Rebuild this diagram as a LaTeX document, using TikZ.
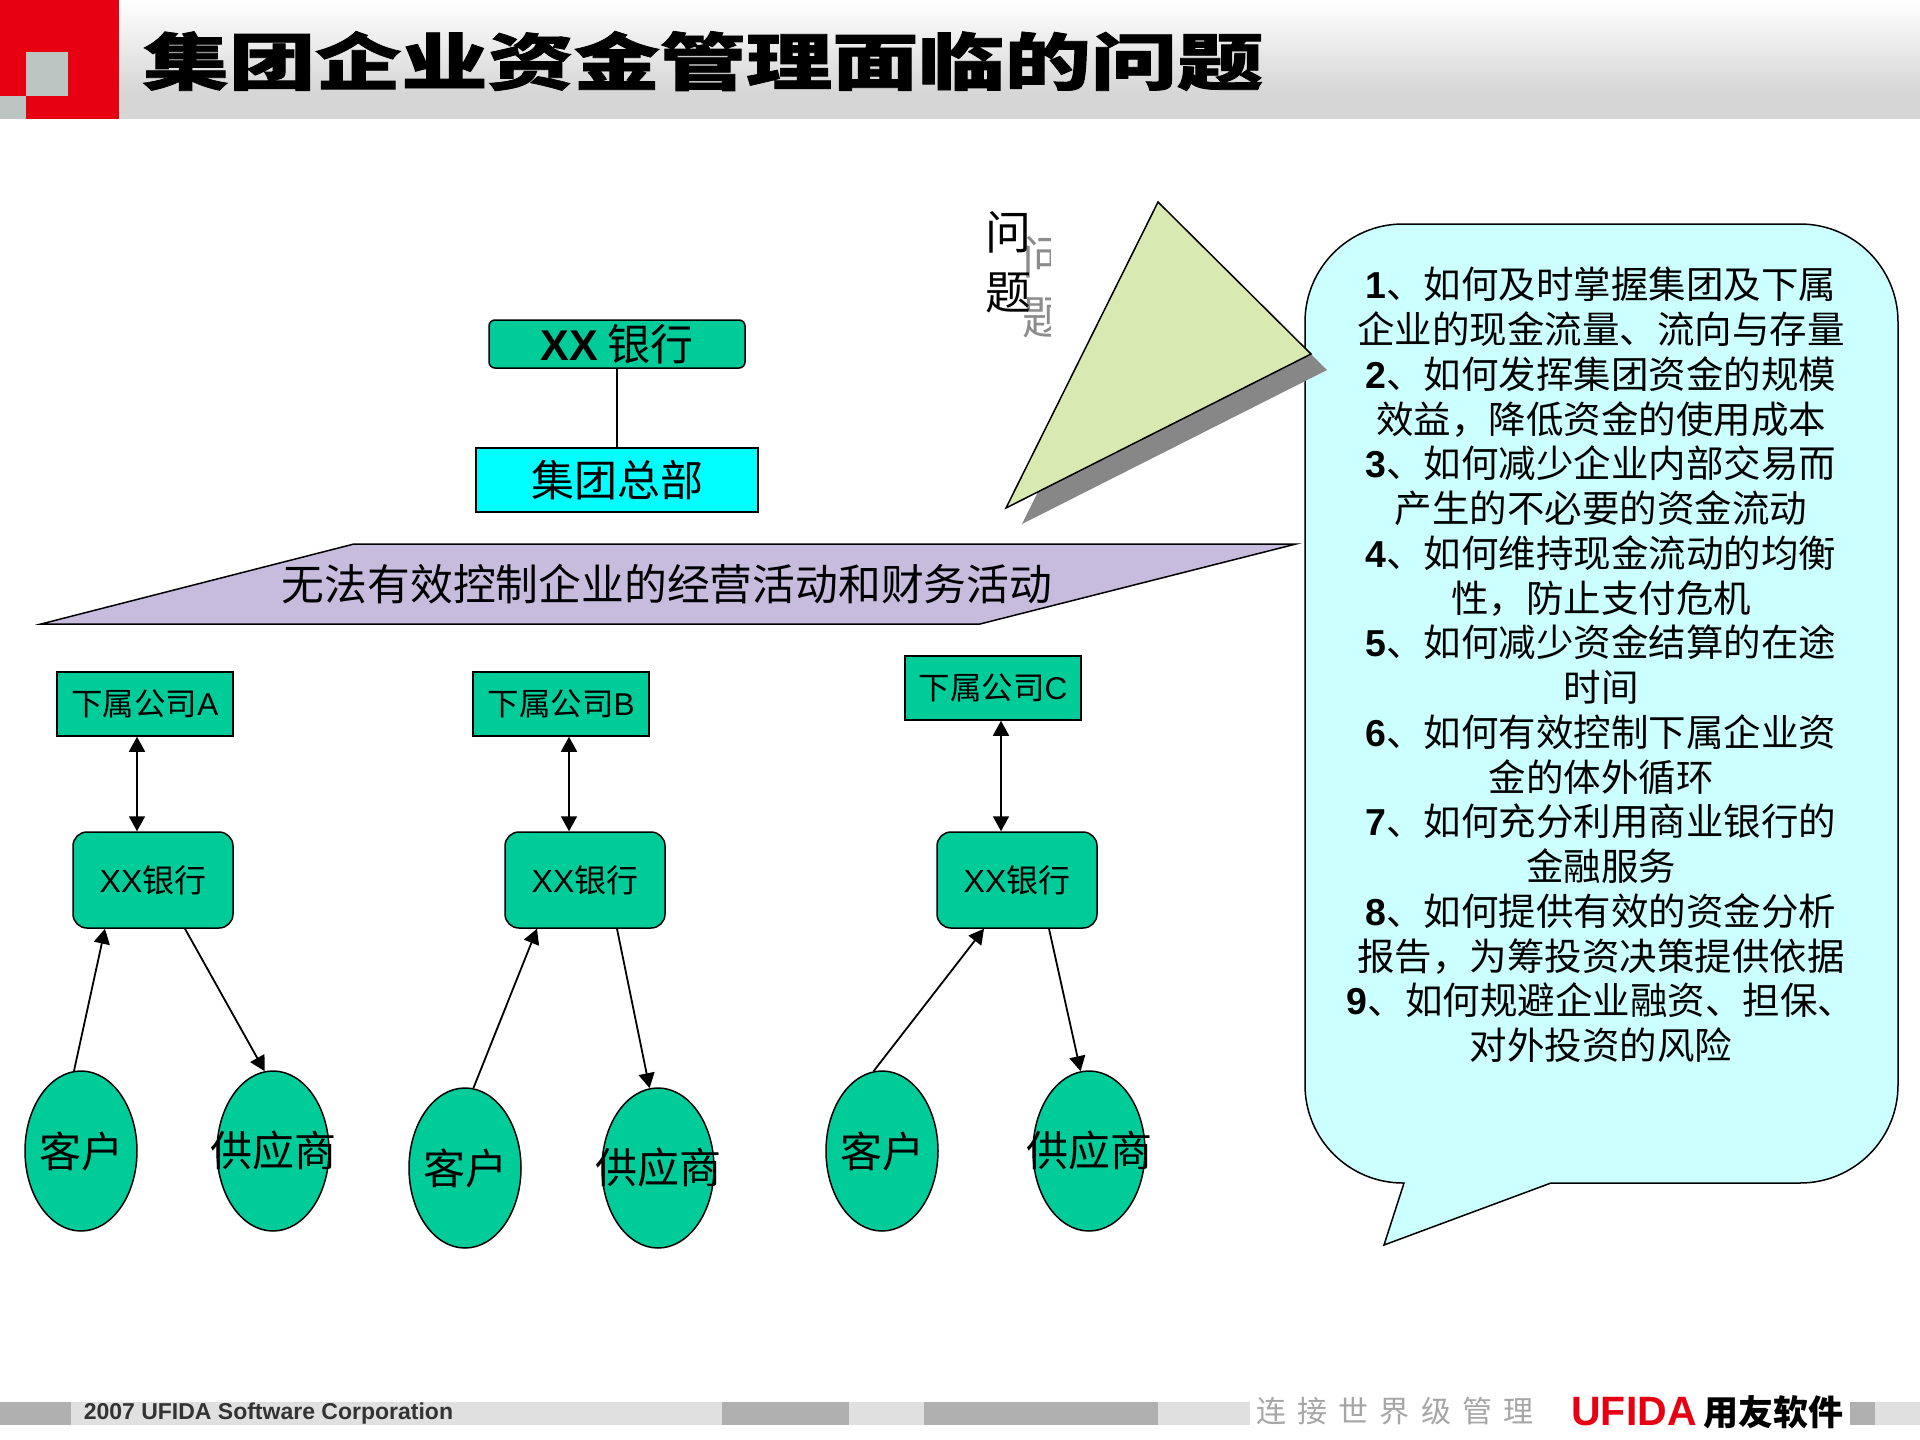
\documentclass[tikz,border=0pt]{standalone}
\usepackage{fontspec}
\setmainfont{Noto Sans CJK SC}
\newfontfamily\latfont{Liberation Sans}
\newfontfamily\titlefont[BoldFeatures={FakeBold=1.2}]{Noto Sans CJK SC}
\newfontfamily\sloganfont[LetterSpace=37]{Noto Sans CJK SC}
\usetikzlibrary{arrows.meta,shapes.geometric}
\definecolor{boxgreen}{HTML}{00CC99}
\definecolor{logored}{HTML}{E60012}
\definecolor{logogray}{HTML}{BCC5C2}
\definecolor{hqcyan}{HTML}{00FFFF}
\definecolor{palecyan}{HTML}{CCFFFF}
\definecolor{palegreen}{HTML}{D8E9B2}
\definecolor{palelilac}{HTML}{C8BCDE}
\newcommand{\la}[1]{{\latfont #1}}
\newcommand{\num}[1]{{\latfont\bfseries #1}}
\newcommand{\nowide}[1]{\makebox[0pt]{#1}}
\newcommand{\fs}[2]{\fontsize{#1}{#2}\selectfont}
\begin{document}
\begin{tikzpicture}[x=1pt,y=-1pt,line width=1.5pt]
        \tikzstyle{bankbox}=[draw,fill=boxgreen,rounded corners=14pt,minimum width=160pt,minimum height=96pt,inner sep=0pt,font=\fs{32}{36}]
        \tikzstyle{subbox}=[draw,fill=boxgreen,minimum width=176pt,minimum height=64pt,inner sep=0pt,font=\fs{31.5}{36}]
        \tikzstyle{partner}=[draw,fill=boxgreen,ellipse,minimum width=112pt,minimum height=160pt,inner sep=0pt,font=\fs{42}{46}]
        \tikzstyle{link}=[-{Triangle[length=15pt,width=16pt]},line width=1.8pt]
        \tikzstyle{dbllink}=[{Triangle[length=15pt,width=16pt]}-{Triangle[length=15pt,width=16pt]},line width=1.8pt]
        \tikzstyle{band}=[fill=black!12,draw=none]
        \tikzstyle{bandd}=[fill=black!31,draw=none]
        \useasboundingbox (0,0) rectangle (1920,1440);
        \fill[white] (0,0) rectangle (1920,1440);
        \shade[top color=white,bottom color=black!16] (119,0) rectangle (1920,92);
        \fill[black!16] (119,92) rectangle (1920,119);
        \fill[logored] (0,0) rectangle (119,119);
        \fill[logogray] (26,52) rectangle (68,96);
        \fill[logogray] (0,96) rectangle (26,119);
        \node[xscale=1.39,transform shape,font=\titlefont\bfseries\fs{62}{66}] (title) at (703,61) {集团企业资金管理面临的问题};
        \fill[band] (0,1402) rectangle (1250,1425);
        \fill[band] (1875,1402) rectangle (1920,1425);
        \fill[bandd] (0,1402) rectangle (71,1425);
        \fill[bandd] (722,1402) rectangle (849,1425);
        \fill[bandd] (924,1402) rectangle (1158,1425);
        \fill[bandd] (1850,1402) rectangle (1875,1425);
        \node[font=\latfont\bfseries\fs{23}{26},text=black!80,anchor=west,inner sep=0pt] (copyright) at (83,1414) {2007 UFIDA Software Corporation};
        \node[font=\sloganfont\fs{30}{34},text=black!35,inner sep=0pt] (slogan) at (1395,1411) {连接世界级管理};
        \node[font=\latfont\bfseries\fs{41}{46},text=logored,inner sep=0pt] (ufida) at (1634,1412) {UFIDA};
        \node[font=\bfseries\fs{35}{40},inner sep=0pt] (ufidacn) at (1773,1412) {用友软件};
        \draw[fill=palecyan,rounded corners=98pt] (1305,600) -- (1305,224) -- (1898,224) -- (1898,1183) [sharp corners] -- (1551,1183) -- (1384,1245) -- (1404,1183) [rounded corners=98pt] -- (1305,1183) -- cycle;
        \node[align=center,font=\fs{37.5}{44.76},inner sep=0pt] (questions) at (1601,665) {\num{1}、如何及时掌握集团及下属\\企业的现金流量、流向与存量\\\num{2}、如何发挥集团资金的规模\\效益，降低资金的使用成本\\\num{3}、如何减少企业内部交易而\\产生的不必要的资金流动\\\num{4}、如何维持现金流动的均衡\\性，防止支付危机\\\num{5}、如何减少资金结算的在途\\时间\\\num{6}、如何有效控制下属企业资\\金的体外循环\\\num{7}、如何充分利用商业银行的\\金融服务\\\num{8}、如何提供有效的资金分析\\报告，为筹投资决策提供依据\\\num{9}、如何规避企业融资、担保、\\对外投资的风险};
        \fill[black!47] (1174,218) -- (1327,370) -- (1022,524) -- cycle;
        \draw[fill=palegreen] (1158,202) -- (1311,354) -- (1006,508) -- cycle;
        \begin{scope}
            \clip (1000,200) rectangle (1050,360);
            \node[align=center,font=\fs{46}{60},text=black!45,inner sep=0pt] (askshadow) at (1045,287) {问\\题};
        \end{scope}
        \node[align=center,font=\fs{46}{60},inner sep=0pt] (ask) at (1008,262) {问\\题};
        \node[draw,fill=boxgreen,rounded corners=6pt,minimum width=256pt,minimum height=48pt,inner sep=0pt,font=\fs{43}{46}] (topbank) at (617,344) {\num{XX} 银行};
        \node[draw,fill=hqcyan,minimum width=282pt,minimum height=64pt,inner sep=0pt,font=\fs{43}{46}] (hq) at (617,480) {集团总部};
        \draw (topbank.south) -- (hq.north);
        \draw[fill=palelilac] (41,624) -- (354,544) -- (1296,544) -- (980,624) -- cycle;
        \node[font=\fs{42.8}{48},inner sep=0pt] (warning) at (667,584) {无法有效控制企业的经营活动和财务活动};
        \node[subbox] (subA) at (145,704) {下属公司\la{A}};
        \node[subbox] (subB) at (561,704) {下属公司\la{B}};
        \node[subbox] (subC) at (993,688) {下属公司\la{C}};
        \node[bankbox] (bankA) at (153,880) {\la{XX}银行};
        \node[bankbox] (bankB) at (585,880) {\la{XX}银行};
        \node[bankbox] (bankC) at (1017,880) {\la{XX}银行};
        \node[partner] (custA) at (81,1151) {\nowide{客户}};
        \node[partner] (suppA) at (273,1151) {\nowide{供应商}};
        \node[partner] (custB) at (465,1168) {\nowide{客户}};
        \node[partner] (suppB) at (658,1168) {\nowide{供应商}};
        \node[partner] (custC) at (882,1151) {\nowide{客户}};
        \node[partner] (suppC) at (1089,1151) {\nowide{供应商}};
        \draw[dbllink] ([xshift=-8pt]subA.south) -- ([xshift=-16pt]bankA.north);
        \draw[dbllink] ([xshift=8pt]subB.south) -- ([xshift=-16pt]bankB.north);
        \draw[dbllink] ([xshift=8pt]subC.south) -- ([xshift=-16pt]bankC.north);
        \draw[link] (custA.95) -- ([xshift=-48pt]bankA.south);
        \draw[link] ([xshift=32pt]bankA.south) -- (suppA.96);
        \draw[link] (custB.84) -- ([xshift=-48pt]bankB.south);
        \draw[link] ([xshift=32pt]bankB.south) -- (suppB.96);
        \draw[link] (custC.96) -- ([xshift=-33pt]bankC.south);
        \draw[link] ([xshift=32pt]bankC.south) -- (suppC.96);
    \end{tikzpicture}
\end{document}
